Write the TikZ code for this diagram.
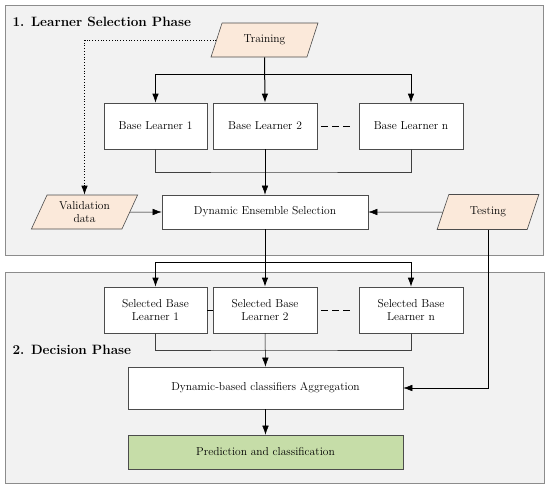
\documentclass[tikz,border=0pt]{standalone}
\usepackage{xcolor}
\usepackage{tikz}
\usetikzlibrary{positioning, arrows.meta, shapes.geometric}
\definecolor{panelgray}{HTML}{F2F2F2}
\definecolor{paneledge}{HTML}{8C8C8C}
\definecolor{datapeach}{HTML}{FBE9DA}
\definecolor{predgreen}{HTML}{C6DDA8}

\tikzset{
  panel/.style={fill=panelgray, draw=paneledge, line width=0.8pt},
  box/.style={draw=black!70, fill=white, line width=0.6pt, align=center,
    font=\fontsize{11.5}{13.5}\selectfont, inner sep=2pt},
  dataio/.style={trapezium, trapezium left angle=65, trapezium right angle=115,
    trapezium stretches=true, draw=black!70, fill=datapeach, line width=0.6pt,
    align=center, font=\fontsize{11.5}{13.5}\selectfont, inner sep=1pt},
  phase/.style={anchor=west, font=\fontsize{13.5}{16}\bfseries},
  tip/.style={-{Latex[length=9pt,width=6.5pt]}},
}

\begin{document}
\begin{tikzpicture}[x=1pt, y=-1pt]
    \useasboundingbox (0,0) rectangle (550,490);
    % the two phases
    \draw[panel] (5,5) rectangle (543,255);
    \draw[panel] (5,272) rectangle (544,483);
    \node[phase] (phaseone) at (9,22) {1. Learner Selection Phase};
    \node[phase] (phasetwo) at (9,350) {2. Decision Phase};

    % learner selection
    \node[dataio, minimum width=107pt, minimum height=34pt] (train) at (264.5,40) {Training};
    \node[box, minimum width=103pt, minimum height=46pt] (bl1) at (155.5,126) {Base Learner 1};
    \node[box, minimum width=104pt, minimum height=46pt] (bl2) at (265,126) {Base Learner 2};
    \node[box, minimum width=104pt, minimum height=46pt] (bln) at (411,126) {Base Learner n};
    \node[box, minimum width=206pt, minimum height=34pt] (des) at (265,212) {Dynamic Ensemble Selection};
    \node[dataio, minimum width=107pt, minimum height=34pt] (valid) at (84.5,212) {Validation\\data};
    \node[dataio, minimum width=102pt, minimum height=35pt] (test) at (488,212) {Testing};
    \coordinate (splitone) at (265,74);
    \coordinate (mergeone) at (265,172);

    % decision
    \node[box, minimum width=103pt, minimum height=46pt] (sbl1) at (155.5,310) {Selected Base\\Learner 1};
    \node[box, minimum width=104pt, minimum height=46pt] (sbl2) at (265,310) {Selected Base\\Learner 2};
    \node[box, minimum width=104pt, minimum height=46pt] (sbln) at (411,310) {Selected Base\\Learner n};
    \node[box, minimum width=275pt, minimum height=42pt] (agg) at (265.5,388) {Dynamic-based classifiers Aggregation};
    \node[box, fill=predgreen, minimum width=275pt, minimum height=34pt] (pred) at (265.5,452) {Prediction and classification};
    \coordinate (splittwo) at (265,262);
    \coordinate (mergetwo) at (265,350);

    % connectors, phase 1
    \draw[tip, line width=1pt] (train.south) -- (bl2.north);
    \draw[tip, line width=0.8pt] (splitone) -| (bl1.north);
    \draw[tip, line width=0.8pt] (splitone) -| (bln.north);
    \draw[line width=1pt, dash pattern=on 7pt off 4pt, shorten <=4pt, shorten >=9pt] (bl2.east) -- (bln.west);
    \draw[line width=0.5pt, black!75] (bl1.south) |- (mergeone) -| (bln.south);
    \draw[tip, line width=0.5pt] (bl2.south) -- (des.north);
    \draw[tip, line width=0.8pt, dotted] (train.west) -| (valid.north);
    \draw[tip, line width=0.5pt] (valid.east) -- (des.west);
    \draw[tip, line width=0.5pt] (test.west) -- (des.east);
    \draw[tip, line width=0.5pt] (test.south) |- (agg.east);

    % connectors, phase 2
    \draw[tip, line width=1pt] (des.south) -- (sbl2.north);
    \draw[tip, line width=0.8pt] (splittwo) -| (sbl1.north);
    \draw[tip, line width=0.8pt] (splittwo) -| (sbln.north);
    \draw[line width=0.5pt] (sbl1.east) -- (sbl2.west);
    \draw[line width=1pt, dash pattern=on 7pt off 4pt, shorten <=4pt, shorten >=9pt] (sbl2.east) -- (sbln.west);
    \draw[line width=0.5pt, black!75] (sbl1.south) |- (mergetwo) -| (sbln.south);
    \draw[tip, line width=0.5pt] (sbl2.south) -- (agg.north);
    \draw[tip, line width=0.5pt] (agg.south) -- (pred.north);
  \end{tikzpicture}
\end{document}
